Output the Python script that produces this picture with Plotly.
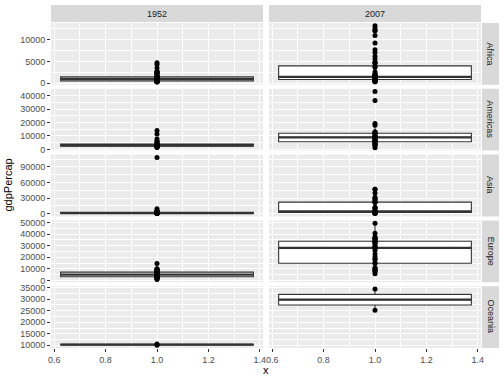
import numpy as np
import plotly.graph_objects as go

years = ["1952", "2007"]
continents = ["Africa", "Americas", "Asia", "Europe", "Oceania"]

africa_1952 = [2449.0, 3520.6, 1062.8, 851.2, 543.3, 339.3, 1172.7, 1071.3, 1178.7, 1103.0,
               780.5, 2125.6, 1388.6, 2669.5, 1418.8, 375.6, 328.9, 362.1, 4293.5, 485.2,
               911.3, 510.2, 299.9, 853.5, 298.8, 575.6, 2387.5, 1443.0, 369.2, 452.3,
               743.1, 1968.0, 1688.2, 468.5, 2423.8, 761.9, 1077.3, 2718.9, 493.3, 879.6,
               1450.4, 879.8, 1135.7, 4725.3, 1616.0, 1148.4, 716.7, 859.8, 1468.5, 734.8,
               1147.4, 406.9]
africa_2007 = [6223.4, 4797.2, 1441.3, 12569.9, 1217.0, 430.1, 2042.1, 706.0, 1704.1, 986.1,
               277.6, 3632.6, 1544.8, 2082.5, 5581.2, 12154.1, 641.4, 690.8, 13206.5, 752.7,
               1327.6, 942.7, 579.2, 1463.2, 1569.3, 414.5, 12057.5, 1044.8, 759.3, 1042.6,
               1803.2, 10957.0, 3820.2, 823.7, 4811.1, 619.7, 2014.0, 7670.1, 863.1, 1598.4,
               1712.5, 862.5, 926.1, 9269.7, 2602.4, 4513.5, 1107.5, 883.0, 7092.9, 1056.4,
               1271.2, 469.7]
americas_1952 = [5911.3, 2677.3, 2108.9, 11367.2, 3940.0, 2144.1, 2627.0, 5586.5, 1397.7, 3522.1,
                 3048.3, 2428.2, 1840.4, 2194.9, 2898.5, 3478.1, 3112.4, 2480.4, 1952.3, 3758.5,
                 3082.0, 3023.3, 13990.5, 5716.8, 7689.8]
americas_2007 = [12779.4, 3822.1, 9065.8, 36319.2, 13171.6, 7006.6, 9645.1, 8948.1, 6025.4, 6873.3,
                 5728.4, 5186.1, 1201.6, 3548.3, 7320.9, 11977.6, 2749.3, 9809.2, 4172.8, 7408.9,
                 19328.7, 18008.5, 42951.7, 10611.5, 11415.8]
asia_1952 = [779.4, 9867.1, 684.2, 368.5, 400.4, 3054.4, 546.6, 749.7, 3035.3, 4129.8,
             4086.5, 3217.0, 1546.9, 1088.3, 1030.6, 108382.4, 4834.8, 1831.1, 786.6, 331.0,
             545.9, 1828.2, 684.6, 1272.9, 6459.6, 2315.1, 1083.5, 1643.5, 1206.9, 757.8,
             605.1, 1515.6, 781.7]
asia_2007 = [974.6, 29796.0, 1391.3, 1713.8, 4959.1, 39725.0, 2452.2, 3540.7, 11605.7, 4471.1,
             25523.3, 31656.1, 4519.5, 1593.1, 23348.1, 47307.0, 10461.1, 12451.7, 3095.8, 944.0,
             1091.4, 22316.2, 2605.9, 3190.5, 21654.8, 47143.2, 3970.1, 4184.5, 28718.3, 7458.4,
             2441.6, 3025.4, 2280.8]
europe_1952 = [1601.1, 6137.1, 8343.1, 973.5, 2444.3, 3119.2, 6876.1, 9692.4, 6424.5, 7029.8,
               7144.1, 3530.7, 5263.7, 7267.7, 5210.3, 4931.4, 2647.6, 8941.6, 10095.4, 4029.3,
               3068.3, 3144.6, 3581.5, 5074.7, 4215.0, 3834.0, 8527.8, 14734.2, 1969.1, 9979.5]
europe_2007 = [5937.0, 36126.5, 33692.6, 7446.3, 10680.8, 14619.2, 22833.3, 35278.4, 33207.1, 30470.0,
               32170.4, 27538.4, 18008.9, 36180.8, 40676.0, 28569.7, 9253.9, 36797.9, 49357.2, 15389.9,
               20509.6, 10808.5, 9786.5, 18678.3, 25768.3, 28821.1, 33859.7, 37506.4, 8458.3, 33203.3]
oceania_1952 = [10039.6, 10556.6]
oceania_2007 = [34435.4, 25185.0]

data = {
    ("Africa", "1952"): africa_1952, ("Africa", "2007"): africa_2007,
    ("Americas", "1952"): americas_1952, ("Americas", "2007"): americas_2007,
    ("Asia", "1952"): asia_1952, ("Asia", "2007"): asia_2007,
    ("Europe", "1952"): europe_1952, ("Europe", "2007"): europe_2007,
    ("Oceania", "1952"): oceania_1952, ("Oceania", "2007"): oceania_2007,
}

y_ticks = {
    "Africa": [0, 5000, 10000],
    "Americas": [0, 10000, 20000, 30000, 40000],
    "Asia": [0, 30000, 60000, 90000],
    "Europe": [0, 10000, 20000, 30000, 40000, 50000],
    "Oceania": [10000, 15000, 20000, 25000, 30000, 35000],
}
x_ticks = [0.6, 0.8, 1.0, 1.2, 1.4]
x_ticklabels = ["0.6", "0.8", "1.0", "1.2", "1.4"]

# layout geometry (pixels)
W, H = 504, 378
L, R, T, B = 51, 481, 23, 348
PW, PH = R - L, B - T
col_px = [(0, 212), (218, 430)]
gap_v = 4
row_h = (PH - 4 * gap_v) / 5

FONT = "Liberation Sans, Arial, Helvetica, sans-serif"
fig = go.Figure()
layout = dict(
    width=W, height=H,
    margin=dict(l=L, r=W - R, t=T, b=H - B, pad=0, autoexpand=False),
    paper_bgcolor="white", plot_bgcolor="#EBEBEB",
    showlegend=False, boxmode="overlay",
    font=dict(family=FONT, size=9, color="#4D4D4D"),
    shapes=[], annotations=[],
)

def minor_between(t):
    step = t[1] - t[0]
    return dict(showgrid=True, gridcolor="white", gridwidth=0.5,
                tick0=t[0] - step / 2, dtick=step, ticks="")

def box_stats(v):
    a = np.asarray(v, dtype=float)
    q1, med, q3 = np.percentile(a, [25, 50, 75])
    iqr = q3 - q1
    lo = a[a >= q1 - 1.5 * iqr].min()
    hi = a[a <= q3 + 1.5 * iqr].max()
    return q1, med, q3, lo, hi

for ri, cont in enumerate(continents):
    allv = data[(cont, "1952")] + data[(cont, "2007")]
    lo, hi = min(allv), max(allv)
    pad = (hi - lo) * 0.05
    yr = [lo - pad, hi + pad]
    top = ri * (row_h + gap_v)
    ydom = [1 - (top + row_h) / PH, 1 - top / PH]
    for ci, yr_name in enumerate(years):
        k = ri * 2 + ci + 1
        xa = "xaxis" if k == 1 else f"xaxis{k}"
        ya = "yaxis" if k == 1 else f"yaxis{k}"
        xref = "x" if k == 1 else f"x{k}"
        yref = "y" if k == 1 else f"y{k}"
        vals = data[(cont, yr_name)]
        q1, med, q3, wlo, whi = box_stats(vals)
        fig.add_trace(go.Box(
            x=[1], q1=[q1], median=[med], q3=[q3], lowerfence=[wlo], upperfence=[whi],
            xaxis=xref, yaxis=yref, width=0.75, boxpoints=False, whiskerwidth=0,
            fillcolor="white", line=dict(color="#333333", width=1.1),
            hoverinfo="skip",
        ))
        # thicker median line (ggplot fatten = 2)
        fig.add_trace(go.Box(
            x=[1], q1=[med], median=[med], q3=[med], lowerfence=[med], upperfence=[med],
            xaxis=xref, yaxis=yref, width=0.75, boxpoints=False, whiskerwidth=0,
            fillcolor="rgba(0,0,0,0)", line=dict(color="#333333", width=2.2),
            hoverinfo="skip",
        ))
        fig.add_trace(go.Scatter(
            x=[1] * len(vals), y=vals, xaxis=xref, yaxis=yref, mode="markers",
            marker=dict(color="black", size=5), hoverinfo="skip",
        ))
        bottom = ri == len(continents) - 1
        xdom = [col_px[ci][0] / PW, col_px[ci][1] / PW]
        layout[xa] = dict(
            domain=xdom, anchor=yref, range=[0.5875, 1.4125],
            tickvals=x_ticks, ticktext=x_ticklabels, automargin=False,
            showticklabels=bottom, ticks="outside" if bottom else "",
            ticklen=3, tickcolor="#333333", tickwidth=1,
            tickfont=dict(size=9, color="#4D4D4D", family=FONT),
            showgrid=True, gridcolor="white", gridwidth=1,
            minor=dict(showgrid=True, gridcolor="white", gridwidth=0.5,
                       tickvals=[0.7, 0.9, 1.1, 1.3], ticks=""),
            zeroline=False, showline=False,
        )
        layout[ya] = dict(
            domain=ydom, anchor=xref, range=yr, automargin=False,
            tickvals=y_ticks[cont], ticktext=[str(v) for v in y_ticks[cont]],
            showticklabels=(ci == 0), ticks="outside" if ci == 0 else "",
            ticklen=3, tickcolor="#333333", tickwidth=1,
            tickfont=dict(size=9, color="#4D4D4D", family=FONT),
            showgrid=True, gridcolor="white", gridwidth=1,
            minor=minor_between(y_ticks[cont]),
            zeroline=False, showline=False,
        )
    # right strip
    layout["shapes"].append(dict(
        type="rect", xref="paper", yref="paper",
        x0=1 + 1 / PW, x1=1 + 18 / PW, y0=ydom[0], y1=ydom[1],
        fillcolor="#D9D9D9", line=dict(width=0), layer="below"))
    layout["annotations"].append(dict(
        text=cont, xref="paper", yref="paper",
        x=1 + 9.5 / PW, y=(ydom[0] + ydom[1]) / 2, showarrow=False,
        textangle=90, font=dict(size=9, color="#1A1A1A", family=FONT),
        xanchor="center", yanchor="middle"))

# top strips
for ci, yr_name in enumerate(years):
    x0 = col_px[ci][0] / PW
    x1 = col_px[ci][1] / PW
    layout["shapes"].append(dict(
        type="rect", xref="paper", yref="paper",
        x0=x0, x1=x1, y0=1 + 1 / PH, y1=1 + 18 / PH,
        fillcolor="#D9D9D9", line=dict(width=0), layer="below"))
    layout["annotations"].append(dict(
        text=yr_name, xref="paper", yref="paper",
        x=(x0 + x1) / 2, y=1 + 9.5 / PH, showarrow=False,
        font=dict(size=9, color="#1A1A1A", family=FONT),
        xanchor="center", yanchor="middle"))

# axis titles
layout["annotations"].append(dict(
    text="gdpPercap", xref="paper", yref="paper",
    x=-44 / PW, y=0.5, showarrow=False, textangle=-90,
    font=dict(size=11, color="black", family=FONT),
    xanchor="center", yanchor="middle"))
layout["annotations"].append(dict(
    text="x", xref="paper", yref="paper",
    x=0.5, y=-22 / PH, showarrow=False,
    font=dict(size=11, color="black", family=FONT),
    xanchor="center", yanchor="middle"))

fig.update_layout(**layout)
fig.write_html("out.html", config={"displayModeBar": False},
               post_script="document.body.style.margin='0';document.body.style.overflow='hidden';")
